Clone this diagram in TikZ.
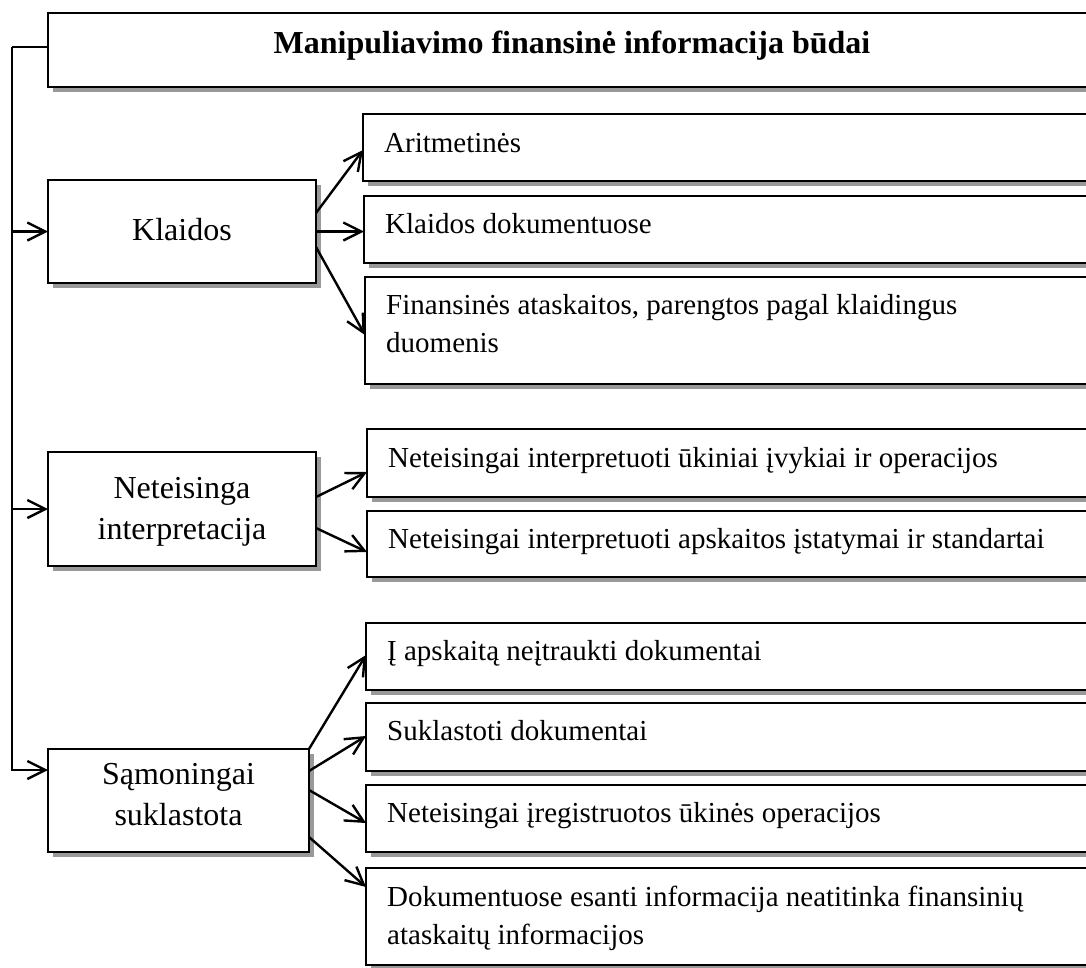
\documentclass[tikz,border=0pt]{standalone}
\usepackage{fontspec}
\setmainfont{Liberation Serif}
\usetikzlibrary{arrows.meta,shadows,calc}
\begin{document}
\begin{tikzpicture}[x=1pt,y=-1pt,
  box/.style={draw=black, line width=2.4pt, fill=white, rectangle, anchor=north west,
    inner sep=0pt, outer sep=0pt,
    drop shadow={shadow xshift=5pt, shadow yshift=-5pt, fill=black!40, opacity=1}},
  rtext/.style={anchor=base west, align=left, inner sep=0pt, font=\fontsize{29}{38}\selectfont},
  ltext/.style={anchor=base, align=center, inner sep=0pt, font=\fontsize{32}{41}\selectfont},
  ttext/.style={anchor=base, inner sep=0pt, font=\bfseries\fontsize{32}{38}\selectfont},
  arr/.style={line width=2.4pt, -{Straight Barb[length=18pt,width=18pt]}},
  link/.style={line width=2.4pt}]
\useasboundingbox (0,0) rectangle (1086,967);
\clip (0,0) rectangle (1086,967);
\fill[white] (0,0) rectangle (1086,967);

% title
\node[box, minimum width=1048pt, minimum height=74pt] (title) at (48,13) {};
\node[ttext] (tt) at (572,53) {Manipuliavimo finansinė informacija būdai};

% left boxes
\node[box, minimum width=268pt, minimum height=103pt] (k) at (48,180) {};
\node[box, minimum width=268pt, minimum height=114pt] (n) at (48,452) {};
\node[box, minimum width=261pt, minimum height=103pt] (s) at (48,749) {};
\node[ltext] (tk) at (182,240) {Klaidos};
\node[ltext] (tn) at (182,539) {Neteisinga\\interpretacija};
\node[ltext] (ts) at (178.5,825) {Sąmoningai\\suklastota};

% right boxes
\node[box, minimum width=733pt, minimum height=67pt] (a1) at (363,114) {};
\node[box, minimum width=732pt, minimum height=67pt] (a2) at (364,196) {};
\node[box, minimum width=731pt, minimum height=107pt] (a3) at (365,277) {};
\node[box, minimum width=729pt, minimum height=68pt] (b1) at (367,429) {};
\node[box, minimum width=729pt, minimum height=66pt] (b2) at (367,511) {};
\node[box, minimum width=730pt, minimum height=67pt] (c1) at (366,623) {};
\node[box, minimum width=730pt, minimum height=68pt] (c2) at (366,703) {};
\node[box, minimum width=730pt, minimum height=67pt] (c3) at (366,785) {};
\node[box, minimum width=730pt, minimum height=97pt] (c4) at (366,868) {};

\node[rtext] (ta1) at ($(a1.north west)+(21,38)$) {Aritmetinės};
\node[rtext] (ta2) at ($(a2.north west)+(21,37)$) {Klaidos dokumentuose};
\node[rtext] (ta3) at ($(a3.north west)+(21,75)$) {Finansinės ataskaitos, parengtos pagal klaidingus\\duomenis};
\node[rtext] (tb1) at ($(b1.north west)+(21,38)$) {Neteisingai interpretuoti ūkiniai įvykiai ir operacijos};
\node[rtext] (tb2) at ($(b2.north west)+(21,37)$) {Neteisingai interpretuoti apskaitos įstatymai ir standartai};
\node[rtext] (tc1) at ($(c1.north west)+(21,37)$) {Į apskaitą neįtraukti dokumentai};
\node[rtext] (tc2) at ($(c2.north west)+(21,37)$) {Suklastoti dokumentai};
\node[rtext] (tc3) at ($(c3.north west)+(21,37)$) {Neteisingai įregistruotos ūkinės operacijos};
\node[rtext] (tc4) at ($(c4.north west)+(21,76)$) {Dokumentuose esanti informacija neatitinka finansinių\\ataskaitų informacijos};

% trunk on the left
\coordinate (t) at (12,47);
\draw[link] ($(title.north west)+(0,34)$) -- (t);
\draw[arr] (t) |- ($(s.north west)+(0,21)$);
\draw[arr] (t |- k.west) -- (k.west);
\draw[arr] (t |- n.west) -- (n.west);

% branches
\draw[arr] ($(k.north east)+(0,33)$) -- ($(a1.north west)+(0,36)$);
\draw[arr] (k.east) -- (k.east -| a2.west);
\draw[arr] ($(k.north east)+(0,67)$) -- ($(a3.north west)+(0,58)$);
\draw[arr] ($(n.north east)+(0,45)$) -- ($(b1.north west)+(0,43)$);
\draw[arr] ($(n.north east)+(0,76)$) -- ($(b2.north west)+(0,41)$);
\draw[arr] (s.north east) -- ($(c1.north west)+(0,32)$);
\draw[arr] ($(s.north east)+(0,22)$) -- ($(c2.north west)+(0,33)$);
\draw[arr] ($(s.north east)+(0,41)$) -- ($(c3.north west)+(0,38)$);
\draw[arr] ($(s.north east)+(0,88)$) -- ($(c4.north west)+(0,19)$);
\end{tikzpicture}
\end{document}
